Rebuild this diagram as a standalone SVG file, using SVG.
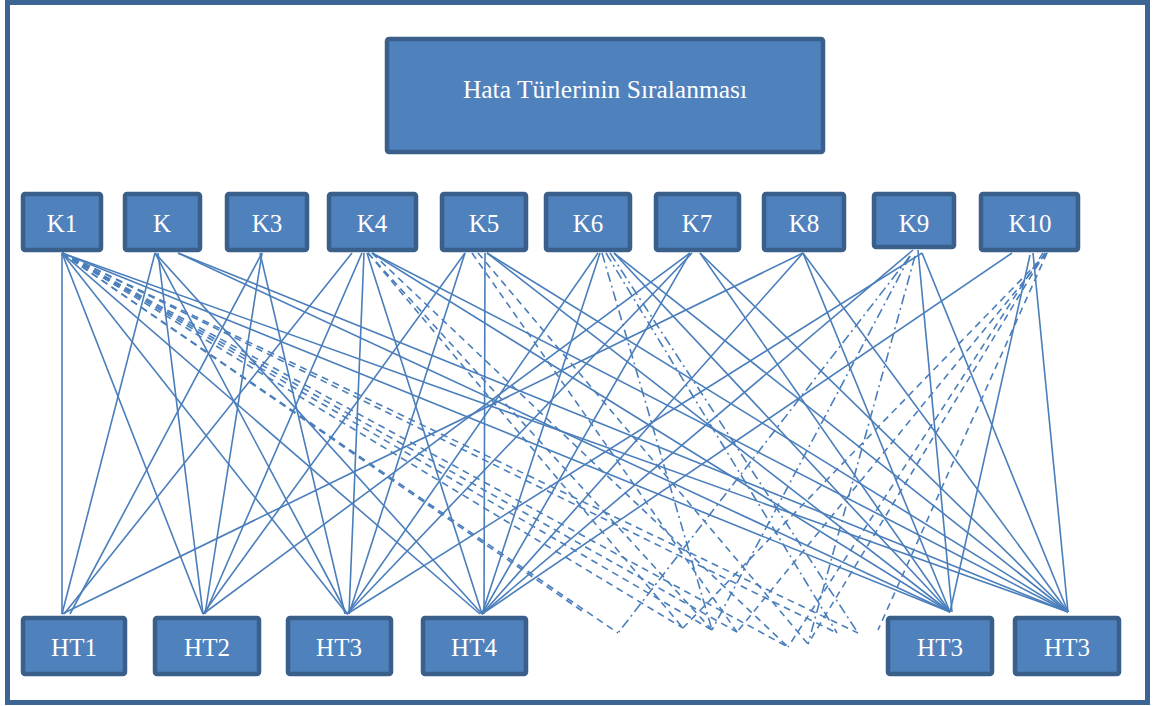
<svg xmlns="http://www.w3.org/2000/svg" width="1155" height="706" viewBox="0 0 1155 706">
  <style>
    .frame { fill: #ffffff; stroke: #3c6494; stroke-width: 5; }
    .box { fill: #4f81bd; stroke: #3a5f8b; stroke-width: 4.5; }
    .lbl { font-family: "Liberation Serif", "Times New Roman", serif; font-size: 25px; fill: #ffffff; text-anchor: middle; }
    .title { font-family: "Liberation Serif", "Times New Roman", serif; font-size: 25.5px; fill: #ffffff; text-anchor: middle; }
    .c line { stroke: #4a7ebb; stroke-width: 1.6; fill: none; }
    .c .d { stroke-dasharray: 7 5; }
    .c .dd { stroke-dasharray: 10 4 2 4; }
  </style>

  <!-- outer frame -->
  <rect class="frame" x="7.5" y="2.5" width="1140" height="700"/>

  <!-- connectors -->
  <g id="connectors" class="c">
    <!-- K1 -->
    <line x1="62" y1="253" x2="62" y2="614"/>
    <line x1="62" y1="253" x2="203" y2="614"/>
    <line x1="62" y1="253" x2="347" y2="614"/>
    <line x1="62" y1="253" x2="480" y2="614"/>
    <line x1="62" y1="253" x2="950" y2="612"/>
    <line x1="62" y1="253" x2="1068" y2="612"/>
    <line class="d" x1="62" y1="253" x2="585" y2="613"/>
    <line class="d" x1="62" y1="253" x2="618" y2="633"/>
    <line class="d" x1="62" y1="253" x2="683" y2="628"/>
    <line class="d" x1="62" y1="253" x2="712" y2="630"/>
    <line class="d" x1="62" y1="253" x2="737" y2="632"/>
    <line class="d" x1="62" y1="253" x2="788" y2="647"/>
    <line class="d" x1="62" y1="253" x2="837" y2="633"/>
    <line class="d" x1="62" y1="253" x2="858" y2="633"/>
    <!-- K -->
    <line x1="155" y1="253" x2="62" y2="614"/>
    <line x1="158" y1="253" x2="203" y2="614"/>
    <line x1="155" y1="253" x2="347" y2="614"/>
    <line x1="155" y1="253" x2="482" y2="614"/>
    <line x1="178" y1="253" x2="950" y2="612"/>
    <line x1="178" y1="253" x2="1068" y2="612"/>
    <!-- K3 -->
    <line x1="262" y1="253" x2="70" y2="614"/>
    <line x1="262" y1="253" x2="205" y2="614"/>
    <line x1="260" y1="253" x2="345" y2="614"/>
    <!-- K4 -->
    <line x1="352" y1="253" x2="64" y2="614"/>
    <line x1="362" y1="253" x2="205" y2="614"/>
    <line x1="364" y1="253" x2="349" y2="614"/>
    <line x1="367" y1="253" x2="482" y2="614"/>
    <line x1="372" y1="253" x2="950" y2="612"/>
    <line x1="372" y1="253" x2="1068" y2="612"/>
    <line class="d" x1="368" y1="253" x2="683" y2="628"/>
    <line class="d" x1="368" y1="253" x2="712" y2="630"/>
    <line class="d" x1="372" y1="253" x2="788" y2="647"/>
    <!-- K5 -->
    <line x1="465" y1="253" x2="203" y2="614"/>
    <line x1="465" y1="253" x2="349" y2="614"/>
    <line x1="485" y1="253" x2="484" y2="614"/>
    <line x1="487" y1="253" x2="950" y2="612"/>
    <line x1="487" y1="253" x2="1068" y2="612"/>
    <line class="d" x1="472" y1="253" x2="737" y2="632"/>
    <line class="d" x1="478" y1="253" x2="808" y2="644"/>
    <!-- K6 -->
    <line x1="598" y1="253" x2="347" y2="614"/>
    <line x1="600" y1="253" x2="482" y2="614"/>
    <line x1="614" y1="253" x2="950" y2="612"/>
    <line x1="614" y1="253" x2="1068" y2="612"/>
    <line class="dd" x1="602" y1="253" x2="712" y2="630"/>
    <line class="dd" x1="606" y1="253" x2="837" y2="633"/>
    <line class="dd" x1="610" y1="253" x2="858" y2="633"/>
    <!-- K7 -->
    <line x1="690" y1="253" x2="203" y2="614"/>
    <line x1="690" y1="253" x2="482" y2="614"/>
    <line x1="692" y1="253" x2="347" y2="614"/>
    <line x1="700" y1="253" x2="950" y2="612"/>
    <line x1="700" y1="253" x2="1068" y2="612"/>
    <!-- K8 -->
    <line x1="803" y1="253" x2="62" y2="614"/>
    <line x1="803" y1="253" x2="482" y2="614"/>
    <line x1="803" y1="253" x2="950" y2="612"/>
    <line x1="803" y1="253" x2="1068" y2="612"/>
    <!-- K9 -->
    <line x1="913" y1="250" x2="482" y2="614"/>
    <line x1="922" y1="253" x2="347" y2="614"/>
    <line x1="918" y1="250" x2="952" y2="612"/>
    <line x1="922" y1="253" x2="1068" y2="612"/>
    <line class="dd" x1="910" y1="256" x2="618" y2="633"/>
    <line class="dd" x1="910" y1="256" x2="712" y2="630"/>
    <line class="dd" x1="915" y1="256" x2="808" y2="644"/>
    <!-- K10 -->
    <line x1="1012" y1="253" x2="482" y2="614"/>
    <line x1="1030" y1="255" x2="950" y2="612"/>
    <line x1="1033" y1="253" x2="1068" y2="612"/>
    <line class="d" x1="1047" y1="253" x2="683" y2="628"/>
    <line class="d" x1="1047" y1="253" x2="737" y2="632"/>
    <line class="d" x1="1045" y1="253" x2="808" y2="644"/>
    <line class="d" x1="1047" y1="253" x2="878" y2="630"/>
    <line class="d" x1="1043" y1="253" x2="788" y2="647"/>
  </g>

  <!-- title -->
  <g id="title">
    <rect class="box" x="387" y="39" width="436" height="113" rx="2"/>
    <text class="title" x="605" y="98">Hata Türlerinin Sıralanması</text>
  </g>

  <!-- criteria row -->
  <g id="k1"><rect class="box" x="23" y="194" width="78" height="56" rx="2"/><text class="lbl" x="62" y="232">K1</text></g>
  <g id="k2"><rect class="box" x="125" y="194" width="75" height="56" rx="2"/><text class="lbl" x="162" y="232">K</text></g>
  <g id="k3"><rect class="box" x="227" y="194" width="80" height="56" rx="2"/><text class="lbl" x="267" y="232">K3</text></g>
  <g id="k4"><rect class="box" x="329" y="194" width="87" height="56" rx="2"/><text class="lbl" x="372" y="232">K4</text></g>
  <g id="k5"><rect class="box" x="442" y="194" width="84" height="56" rx="2"/><text class="lbl" x="484" y="232">K5</text></g>
  <g id="k6"><rect class="box" x="546" y="194" width="84" height="56" rx="2"/><text class="lbl" x="588" y="232">K6</text></g>
  <g id="k7"><rect class="box" x="656" y="194" width="83" height="56" rx="2"/><text class="lbl" x="697" y="232">K7</text></g>
  <g id="k8"><rect class="box" x="764" y="194" width="80" height="56" rx="2"/><text class="lbl" x="804" y="232">K8</text></g>
  <g id="k9"><rect class="box" x="874" y="194" width="80" height="53" rx="2"/><text class="lbl" x="914" y="232">K9</text></g>
  <g id="k10"><rect class="box" x="981" y="194" width="97" height="56" rx="2"/><text class="lbl" x="1030" y="232">K10</text></g>

  <!-- error type row -->
  <g id="ht1"><rect class="box" x="23" y="618" width="102" height="56" rx="2"/><text class="lbl" x="74" y="656">HT1</text></g>
  <g id="ht2"><rect class="box" x="155" y="618" width="104" height="56" rx="2"/><text class="lbl" x="207" y="656">HT2</text></g>
  <g id="ht3"><rect class="box" x="288" y="618" width="103" height="56" rx="2"/><text class="lbl" x="339" y="656">HT3</text></g>
  <g id="ht4"><rect class="box" x="423" y="618" width="103" height="56" rx="2"/><text class="lbl" x="474" y="656">HT4</text></g>
  <g id="ht5"><rect class="box" x="888" y="618" width="104" height="56" rx="2"/><text class="lbl" x="940" y="656">HT3</text></g>
  <g id="ht6"><rect class="box" x="1015" y="618" width="104" height="56" rx="2"/><text class="lbl" x="1067" y="656">HT3</text></g>
</svg>
